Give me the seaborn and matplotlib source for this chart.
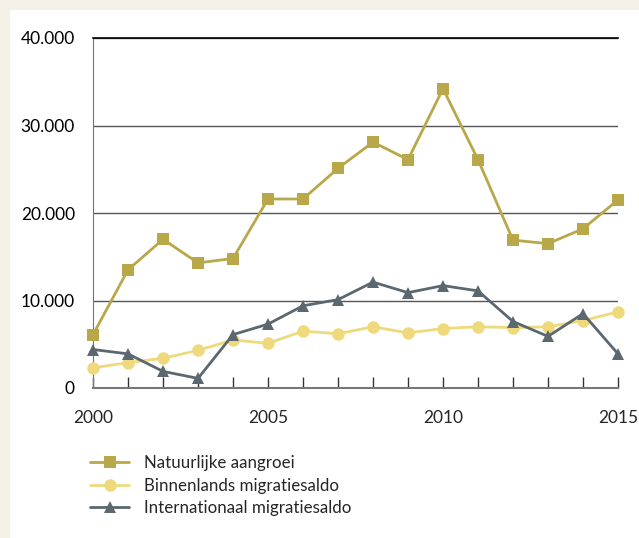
import pandas as pd
import matplotlib.pyplot as plt
import matplotlib.ticker as mticker
from matplotlib.patches import Rectangle
import seaborn as sns

# Gegevens
jaren = list(range(2000, 2016))
natuurlijk = [6100, 13500, 17000, 14300, 14800, 21600, 21600, 25100,
              28100, 26100, 34200, 26100, 16900, 16500, 18200, 21500]
binnenlands = [2300, 2900, 3400, 4300, 5500, 5100, 6500, 6200,
               7000, 6300, 6800, 7000, 6900, 7000, 7700, 8700]
internationaal = [4400, 3900, 1900, 1100, 6100, 7300, 9400, 10100,
                  12100, 10900, 11700, 11100, 7600, 5900, 8500, 3900]
reeksen = ['Natuurlijke aangroei', 'Binnenlands migratiesaldo', 'Internationaal migratiesaldo']

df = pd.DataFrame({
    'jaar': jaren * 3,
    'waarde': natuurlijk + binnenlands + internationaal,
    'reeks': [reeksen[0]] * 16 + [reeksen[1]] * 16 + [reeksen[2]] * 16,
})

kleuren = {reeksen[0]: '#B8A84A', reeksen[1]: '#EED97C', reeksen[2]: '#5B6870'}
markers = {reeksen[0]: 's', reeksen[1]: 'o', reeksen[2]: '^'}

sns.set_style('white')
plt.rcParams['font.family'] = ['Lato', 'DejaVu Sans']

fig = plt.figure(figsize=(6.39, 5.38), dpi=100)
fig.patch.set_facecolor('#F4F0E5')
fig.patches.append(Rectangle((10 / 639, 0), 1, 528 / 538, transform=fig.transFigure,
                             facecolor='white', edgecolor='none', zorder=-1))

ax = fig.add_axes([93 / 639, 150 / 538, 525 / 639, 350 / 538])
ax.set_facecolor('none')

sns.lineplot(data=df, x='jaar', y='waarde', hue='reeks', style='reeks',
             palette=kleuren, markers=markers, dashes=False, linewidth=2,
             markersize=9, markeredgewidth=0, ax=ax, legend=True, zorder=3)
for line in ax.lines:
    line.set_clip_on(False)

ax.set_xlim(2000, 2015)
ax.set_ylim(0, 40000)
ax.set_xlabel('')
ax.set_ylabel('')

ax.yaxis.set_major_locator(mticker.MultipleLocator(10000))
ax.yaxis.set_major_formatter(mticker.FuncFormatter(lambda v, p: f'{int(v):,}'.replace(',', '.')))
ax.xaxis.set_major_locator(mticker.MultipleLocator(5))
ax.xaxis.set_minor_locator(mticker.MultipleLocator(1))

ax.grid(axis='y', color='#555555', linewidth=1, zorder=0)
ax.grid(axis='x', visible=False)

ax.spines['right'].set_visible(False)
ax.spines['top'].set_color('black')
ax.spines['top'].set_linewidth(1.2)
ax.spines['left'].set_color('#777777')
ax.spines['bottom'].set_color('#777777')
ax.spines['bottom'].set_linewidth(1.5)

ax.tick_params(axis='y', length=0, pad=13, labelsize=12.5, labelcolor='black')
ax.tick_params(axis='x', which='both', direction='in', length=8, width=1,
               color='#333333', bottom=True, pad=16, labelsize=12.5)
ax.tick_params(axis='x', which='minor', labelbottom=False)

handles, labels = ax.get_legend_handles_labels()
ax.get_legend().remove()
fig.legend(handles, labels, loc='upper left', bbox_to_anchor=(75 / 639, 98 / 538),
           frameon=False, fontsize=12.2, handlelength=2.3, labelspacing=0.38,
           handletextpad=0.9)

plt.savefig('out.png', dpi=100, facecolor=fig.get_facecolor())
